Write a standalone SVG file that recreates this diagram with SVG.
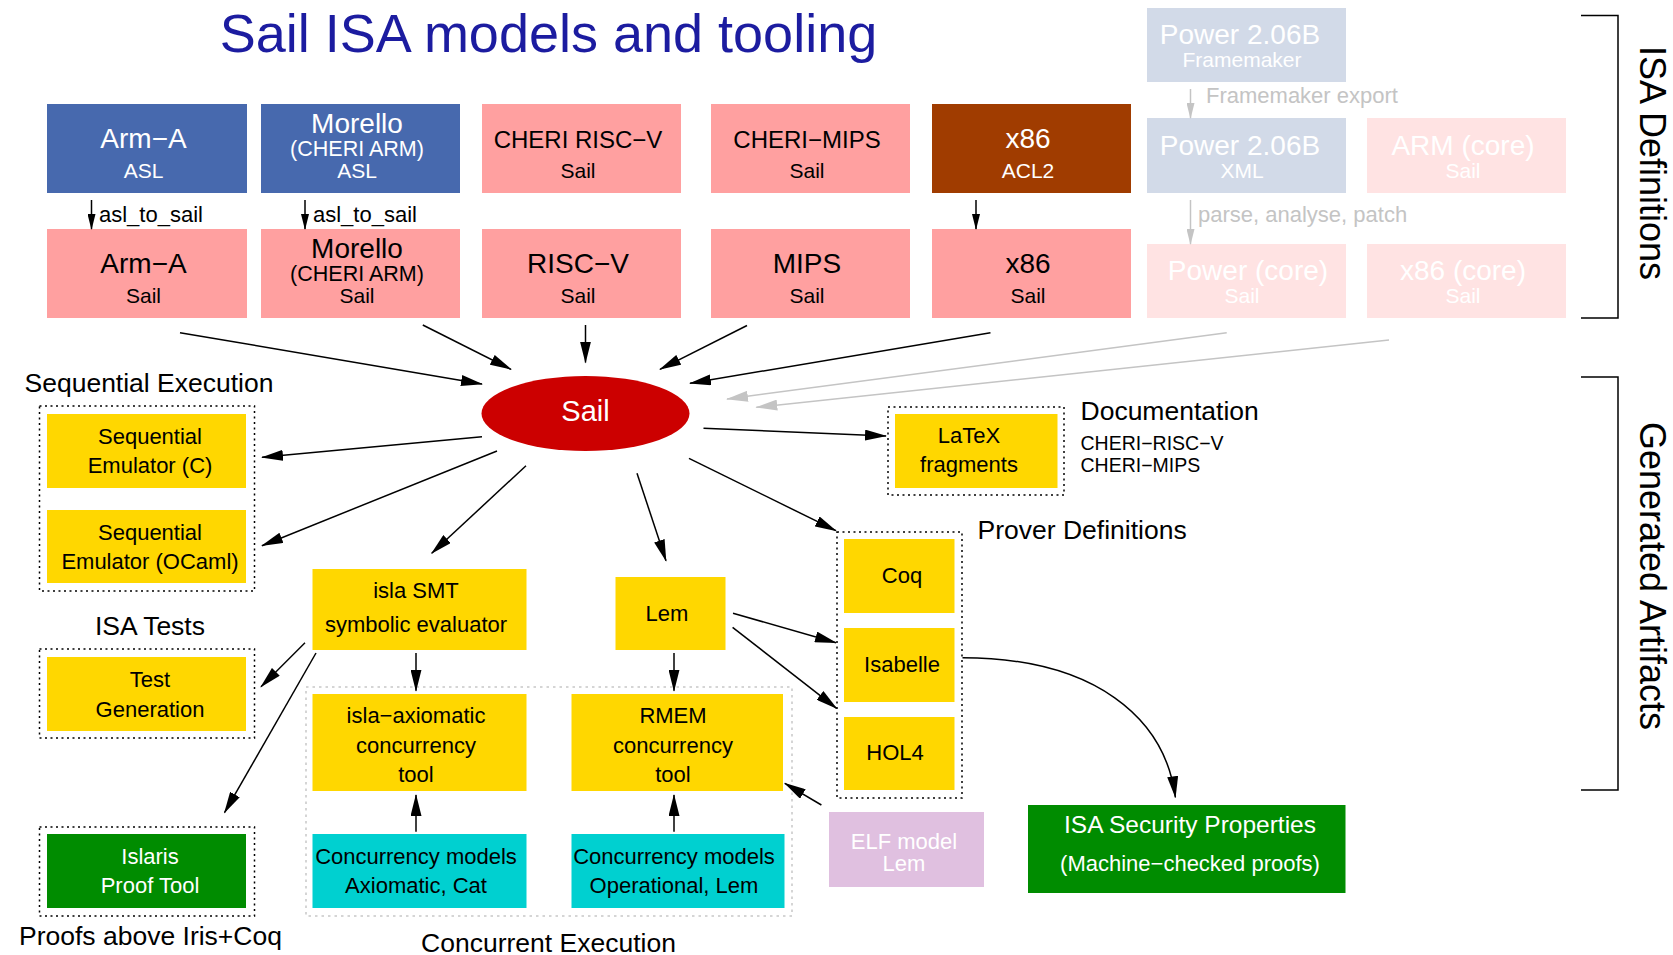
<svg xmlns="http://www.w3.org/2000/svg" width="1673" height="955" viewBox="0 0 1673 955">
<defs>
<style>
text{font-family:"Liberation Sans",Arial,Helvetica,sans-serif;text-anchor:middle}
.t28{font-size:28px}.t24{font-size:24px}.t21{font-size:21px}.t20{font-size:21.5px}.t22{font-size:22px}.t26{font-size:26.5px}
.w{fill:#ffffff}.k{fill:#000000}.g{fill:#c4c4c4}
.blue{fill:#4769ae}.pink{fill:#ffa0a0}.brown{fill:#a03c00}.pblue{fill:#d2dae8}.ppink{fill:#ffe3e3}
.yel{fill:#ffd700}.cyan{fill:#00d0d0}.green{fill:#008c00}.elf{fill:#e0c0e0}
.dot{fill:none;stroke:#000;stroke-width:1.5;stroke-dasharray:2 3.5}
.dotg{fill:none;stroke:#c8c8c8;stroke-width:1.5;stroke-dasharray:2.5 4}
.ln{fill:none;stroke:#000;stroke-width:1.5}
.lg{fill:none;stroke:#c4c4c4;stroke-width:1.5}
.st{text-anchor:start}
</style>
<marker id="ah" markerUnits="userSpaceOnUse" viewBox="0 0 22 11" markerWidth="22" markerHeight="11" refX="21" refY="5.5" orient="auto"><path d="M0,0 L22,5.5 L0,11 Z" fill="#000"/></marker>
<marker id="ahg" markerUnits="userSpaceOnUse" viewBox="0 0 22 11" markerWidth="22" markerHeight="11" refX="21" refY="5.5" orient="auto"><path d="M0,0 L22,5.5 L0,11 Z" fill="#c4c4c4"/></marker>
<marker id="as" markerUnits="userSpaceOnUse" viewBox="0 0 16 8" markerWidth="16" markerHeight="8" refX="15" refY="4" orient="auto"><path d="M0,0 L16,4 L0,8 Z" fill="#000"/></marker>
<marker id="asg" markerUnits="userSpaceOnUse" viewBox="0 0 16 8" markerWidth="16" markerHeight="8" refX="15" refY="4" orient="auto"><path d="M0,0 L16,4 L0,8 Z" fill="#c4c4c4"/></marker>
</defs>

<text x="548.5" y="52" style="font-size:54px;fill:#1c1ca0">Sail ISA models and tooling</text>

<!-- brackets -->
<g id="bracket-isa">
<path class="ln" d="M1581,15.5 H1618 V318 H1581"/>
<text transform="translate(1640,163) rotate(90)" style="font-size:36px">ISA Definitions</text>
</g>
<g id="bracket-gen">
<path class="ln" d="M1581,377 H1618 V790 H1581"/>
<text transform="translate(1640,576) rotate(90)" style="font-size:36px">Generated Artifacts</text>
</g>

<!-- top row -->
<g id="arma-asl"><rect class="blue" x="47" y="104" width="200" height="89"/><text class="t28 w" x="143.5" y="148">Arm−A</text><text class="t21 w" x="143.5" y="178">ASL</text></g>
<g id="morello-asl"><rect class="blue" x="261" y="104" width="199" height="89"/><text class="t28 w" x="357" y="133">Morello</text><text class="t20 w" x="357" y="156">(CHERI ARM)</text><text class="t21 w" x="357" y="178">ASL</text></g>
<g id="cheri-riscv"><rect class="pink" x="482" y="104" width="199" height="89"/><text class="t24 k" x="578" y="148">CHERI RISC−V</text><text class="t21 k" x="578" y="178">Sail</text></g>
<g id="cheri-mips"><rect class="pink" x="711" y="104" width="199" height="89"/><text class="t24 k" x="807" y="148">CHERI−MIPS</text><text class="t21 k" x="807" y="178">Sail</text></g>
<g id="x86-acl2"><rect class="brown" x="932" y="104" width="199" height="89"/><text class="t28 w" x="1028" y="148">x86</text><text class="t21 w" x="1028" y="178">ACL2</text></g>
<g id="power-fm"><rect class="pblue" x="1147" y="8" width="199" height="74"/><text class="t28 w" x="1240" y="44">Power 2.06B</text><text class="t21 w" x="1242" y="67">Framemaker</text></g>
<g id="power-xml"><rect class="pblue" x="1147" y="118" width="199" height="75"/><text class="t28 w" x="1240" y="155">Power 2.06B</text><text class="t21 w" x="1242" y="178">XML</text></g>
<g id="arm-core"><rect class="ppink" x="1367" y="118" width="199" height="75"/><text class="t28 w" x="1463" y="155">ARM (core)</text><text class="t21 w" x="1463" y="178">Sail</text></g>

<!-- second row -->
<g id="arma-sail"><rect class="pink" x="47" y="229" width="200" height="89"/><text class="t28 k" x="143.5" y="273">Arm−A</text><text class="t21 k" x="143.5" y="303">Sail</text></g>
<g id="morello-sail"><rect class="pink" x="261" y="229" width="199" height="89"/><text class="t28 k" x="357" y="258">Morello</text><text class="t20 k" x="357" y="281">(CHERI ARM)</text><text class="t21 k" x="357" y="303">Sail</text></g>
<g id="riscv-sail"><rect class="pink" x="482" y="229" width="199" height="89"/><text class="t28 k" x="578" y="273">RISC−V</text><text class="t21 k" x="578" y="303">Sail</text></g>
<g id="mips-sail"><rect class="pink" x="711" y="229" width="199" height="89"/><text class="t28 k" x="807" y="273">MIPS</text><text class="t21 k" x="807" y="303">Sail</text></g>
<g id="x86-sail"><rect class="pink" x="932" y="229" width="199" height="89"/><text class="t28 k" x="1028" y="273">x86</text><text class="t21 k" x="1028" y="303">Sail</text></g>
<g id="power-core"><rect class="ppink" x="1147" y="244" width="199" height="74"/><text class="t28 w" x="1248" y="280">Power (core)</text><text class="t21 w" x="1242" y="303">Sail</text></g>
<g id="x86-core"><rect class="ppink" x="1367" y="244" width="199" height="74"/><text class="t28 w" x="1463" y="280">x86 (core)</text><text class="t21 w" x="1463" y="303">Sail</text></g>

<!-- Sail -->
<g id="sail"><ellipse cx="585.5" cy="413.5" rx="104" ry="37.5" fill="#cc0000"/><text x="585.5" y="421" style="font-size:29px;fill:#fff">Sail</text></g>

<!-- left groups -->
<g id="seq-exec">
<text class="t26 k" x="149" y="392">Sequential Execution</text>
<rect class="dot" x="39.5" y="406" width="215" height="185"/>
</g>
<g id="seq-c"><rect class="yel" x="47" y="414" width="199" height="74"/><text class="t22 k" x="150" y="444">Sequential</text><text class="t22 k" x="150" y="473">Emulator (C)</text></g>
<g id="seq-ocaml"><rect class="yel" x="47" y="510" width="199" height="73"/><text class="t22 k" x="150" y="540">Sequential</text><text class="t22 k" x="150" y="569">Emulator (OCaml)</text></g>

<g id="isa-tests">
<text class="t26 k" x="150" y="635">ISA Tests</text>
<rect class="dot" x="39.5" y="649" width="215" height="89"/>
</g>
<g id="test-gen"><rect class="yel" x="47" y="657" width="199" height="74"/><text class="t22 k" x="150" y="687">Test</text><text class="t22 k" x="150" y="717">Generation</text></g>

<g id="proofs-iris">
<rect class="dot" x="39.5" y="827" width="215" height="89"/>
<text class="t26 k" x="150.5" y="945">Proofs above Iris+Coq</text>
</g>
<g id="islaris"><rect class="green" x="47" y="834" width="199" height="74"/><text class="t22 w" x="150" y="864">Islaris</text><text class="t22 w" x="150" y="893">Proof Tool</text></g>

<!-- middle -->
<g id="isla-smt"><rect class="yel" x="312.5" y="569" width="214" height="81"/><text class="t22 k" x="416" y="598">isla SMT</text><text class="t22 k" x="416" y="632">symbolic evaluator</text></g>
<g id="lem"><rect class="yel" x="615.5" y="577" width="110" height="73"/><text class="t22 k" x="667" y="621">Lem</text></g>

<g id="concurrent-exec">
<rect class="dotg" x="306" y="687" width="486" height="229"/>
<text class="t26 k" x="548.5" y="952">Concurrent Execution</text>
</g>
<g id="isla-axiomatic"><rect class="yel" x="312.5" y="694" width="214" height="97"/><text class="t22 k" x="416" y="723">isla−axiomatic</text><text class="t22 k" x="416" y="752.5">concurrency</text><text class="t22 k" x="416" y="782">tool</text></g>
<g id="rmem"><rect class="yel" x="571.5" y="694" width="211.5" height="97"/><text class="t22 k" x="673" y="723">RMEM</text><text class="t22 k" x="673" y="752.5">concurrency</text><text class="t22 k" x="673" y="782">tool</text></g>
<g id="cm-axiomatic"><rect class="cyan" x="312.5" y="834" width="214" height="74"/><text class="t22 k" x="416" y="864">Concurrency models</text><text class="t22 k" x="416" y="893">Axiomatic, Cat</text></g>
<g id="cm-operational"><rect class="cyan" x="571.5" y="834" width="213" height="74"/><text class="t22 k" x="674" y="864">Concurrency models</text><text class="t22 k" x="674" y="893">Operational, Lem</text></g>

<!-- right -->
<g id="documentation">
<rect class="dot" x="888" y="407" width="176" height="88"/>
<text class="t26 k st" x="1080.5" y="420">Documentation</text>
<text class="k st" x="1080.5" y="450" style="font-size:19.5px">CHERI−RISC−V</text>
<text class="k st" x="1080.5" y="471.5" style="font-size:19.5px">CHERI−MIPS</text>
</g>
<g id="latex"><rect class="yel" x="895" y="414" width="162.5" height="74"/><text class="t22 k" x="969" y="443">LaTeX</text><text class="t22 k" x="969" y="472">fragments</text></g>

<g id="prover-defs">
<rect class="dot" x="837" y="532" width="125" height="266"/>
<text class="t26 k st" x="977.5" y="538.5">Prover Definitions</text>
</g>
<g id="coq"><rect class="yel" x="844" y="539" width="110.5" height="74"/><text class="t22 k" x="902" y="583">Coq</text></g>
<g id="isabelle"><rect class="yel" x="844" y="628" width="110.5" height="74"/><text class="t22 k" x="902" y="671.5">Isabelle</text></g>
<g id="hol4"><rect class="yel" x="844" y="717" width="110.5" height="73"/><text class="t22 k" x="895" y="760">HOL4</text></g>

<g id="elf"><rect class="elf" x="829" y="812" width="155" height="75"/><text class="t22 w" x="904" y="849">ELF model</text><text class="t22 w" x="904" y="871">Lem</text></g>
<g id="isa-security"><rect class="green" x="1028" y="805" width="317.5" height="88"/><text class="w" x="1190" y="833" style="font-size:24.5px">ISA Security Properties</text><text class="t22 w" x="1190" y="871">(Machine−checked proofs)</text></g>

<!-- connectors -->
<g id="connectors">
<line class="ln" x1="91.5" y1="200" x2="91.5" y2="229" marker-end="url(#as)"/>
<text class="t22 k st" x="99" y="222">asl_to_sail</text>
<line class="ln" x1="305" y1="200" x2="305" y2="229" marker-end="url(#as)"/>
<text class="t22 k st" x="313" y="222">asl_to_sail</text>
<line class="ln" x1="976" y1="200" x2="976" y2="229" marker-end="url(#as)"/>
<line class="lg" x1="1190.5" y1="89" x2="1190.5" y2="118" marker-end="url(#asg)"/>
<text class="t22 g st" x="1206" y="103">Framemaker export</text>
<line class="lg" x1="1190.5" y1="200" x2="1190.5" y2="244" marker-end="url(#asg)"/>
<text class="t22 g st" x="1198" y="222">parse, analyse, patch</text>

<line class="ln" x1="180" y1="332.7" x2="482" y2="384" marker-end="url(#ah)"/>
<line class="ln" x1="422.8" y1="325" x2="511" y2="369.3" marker-end="url(#ah)"/>
<line class="ln" x1="585.5" y1="325" x2="585.5" y2="362.5" marker-end="url(#ah)"/>
<line class="ln" x1="747" y1="325.5" x2="660" y2="369.3" marker-end="url(#ah)"/>
<line class="ln" x1="990.5" y1="332.7" x2="690" y2="383.3" marker-end="url(#ah)"/>
<line class="lg" x1="1226.7" y1="332.7" x2="727" y2="399" marker-end="url(#ahg)"/>
<line class="lg" x1="1389" y1="340" x2="756.3" y2="407.3" marker-end="url(#ahg)"/>

<line class="ln" x1="703.5" y1="428.3" x2="886" y2="436" marker-end="url(#ah)"/>
<line class="ln" x1="689" y1="458.3" x2="836" y2="530.7" marker-end="url(#ah)"/>
<line class="ln" x1="637" y1="473.3" x2="666" y2="560.7" marker-end="url(#ah)"/>
<line class="ln" x1="526" y1="465.7" x2="431.7" y2="553.3" marker-end="url(#ah)"/>
<line class="ln" x1="497" y1="451" x2="262" y2="545.7" marker-end="url(#ah)"/>
<line class="ln" x1="482" y1="436.7" x2="262" y2="457.3" marker-end="url(#ah)"/>

<line class="ln" x1="305" y1="642.7" x2="261" y2="686.7" marker-end="url(#ah)"/>
<line class="ln" x1="316" y1="653" x2="224.5" y2="812.7" marker-end="url(#ah)"/>
<line class="ln" x1="416" y1="653" x2="416" y2="690.7" marker-end="url(#ah)"/>
<line class="ln" x1="674" y1="653" x2="674" y2="690.7" marker-end="url(#ah)"/>
<line class="ln" x1="416" y1="831.7" x2="416" y2="795" marker-end="url(#ah)"/>
<line class="ln" x1="674" y1="831.7" x2="674" y2="795" marker-end="url(#ah)"/>
<line class="ln" x1="821.4" y1="805" x2="784.8" y2="783.3" marker-end="url(#ah)"/>
<line class="ln" x1="733" y1="613.3" x2="836" y2="642.7" marker-end="url(#ah)"/>
<line class="ln" x1="732.6" y1="627.3" x2="836.6" y2="708.3" marker-end="url(#ah)"/>
<path class="ln" d="M962.5,657.7 C1095,658 1165,718 1175.4,797.3" marker-end="url(#ah)"/>
</g>
</svg>
